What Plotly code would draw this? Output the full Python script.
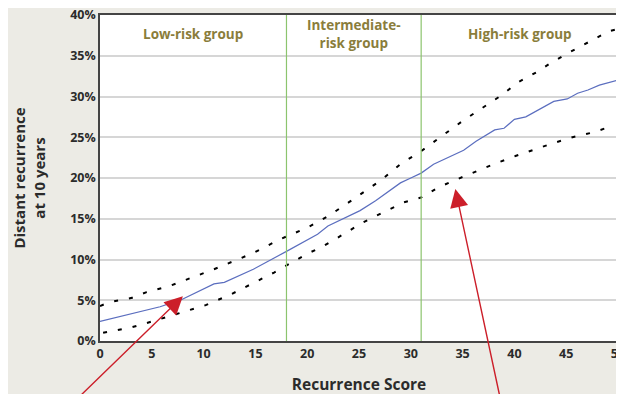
import plotly.graph_objects as go

# Data
score_mid = [0, 5.8, 7.9, 9, 11, 12, 14.8, 18, 19.3, 21, 22, 25.1, 26.6, 29, 30, 31, 32.2, 35.1, 36.3, 38.1, 39.0, 40.0, 41.1, 43.8, 45.1, 46.1, 47.1, 48.2, 50]
risk_mid = [2.4, 4.2, 5.1, 5.8, 7.0, 7.2, 8.8, 11.0, 11.9, 13.1, 14.1, 16.0, 17.2, 19.4, 20.0, 20.6, 21.7, 23.4, 24.5, 25.9, 26.1, 27.2, 27.5, 29.4, 29.7, 30.4, 30.8, 31.4, 32.0]

score_up = [0, 1, 3.1, 4.5, 6.6, 8.7, 11, 14.8, 17.4, 20, 22, 24, 27.2, 29, 31, 35, 36.9, 38.7, 40.3, 42.3, 43.5, 45, 49.1, 50]
risk_up = [4.3, 4.8, 5.3, 6.0, 6.7, 7.7, 8.8, 10.8, 12.5, 13.9, 15.3, 17.0, 19.8, 21.7, 23.3, 27.0, 28.6, 30.1, 31.7, 33.1, 34.1, 35.2, 38.0, 38.3]

score_lo = [0.3, 3.1, 4.5, 6, 8.7, 10.2, 12.6, 14.8, 16.8, 20, 21.5, 23.5, 25.3, 27.2, 29.3, 31, 32.6, 34, 38, 40.1, 42.5, 43.8, 45.6, 47.6, 49.5]
risk_lo = [1.0, 1.7, 2.2, 2.8, 3.8, 4.4, 5.7, 7.1, 8.4, 10.7, 11.6, 13.1, 14.5, 15.7, 17.0, 17.6, 18.8, 19.6, 21.7, 22.7, 23.8, 24.3, 25.0, 25.6, 26.4]

cutoffs = [18, 31]
groups = ["Low-risk group", "Intermediate-<br>risk group", "High-risk group"]
group_x = [9, 24.5, 40.5]
x_ticks = [0, 5, 10, 15, 20, 25, 30, 35, 40, 45, 50]
y_ticks = [0, 5, 10, 15, 20, 25, 30, 35, 40]
y_labels = [f"{v}%" for v in y_ticks]
arrow_tips = [(8.0, 5.5), (34.3, 18.65)]
arrow_offsets = [(-103, 100), (45, 210)]

FONT = "Open Sans"
TXT = "#2b2b2b"
OLIVE = "#8a7d3b"

fig = go.Figure()
fig.add_trace(go.Scatter(x=score_up, y=risk_up, mode="lines",
                         line=dict(color="black", width=2, dash="4px,11px"), hoverinfo="skip"))
fig.add_trace(go.Scatter(x=score_lo, y=risk_lo, mode="lines",
                         line=dict(color="black", width=2, dash="4px,11px"), hoverinfo="skip"))
fig.add_trace(go.Scatter(x=score_mid, y=risk_mid, mode="lines",
                         line=dict(color="#5b6ebf", width=1.2), hoverinfo="skip"))

for c in cutoffs:
    fig.add_shape(type="line", x0=c, x1=c, y0=0, y1=40, xref="x", yref="y",
                  line=dict(color="#8cc46e", width=1.2), layer="above")

for gx, g in zip(group_x, groups):
    fig.add_annotation(x=gx, y=37.7, text=f"<b>{g}</b>", showarrow=False,
                       font=dict(family=FONT, size=13.5, color=OLIVE), yanchor="middle")

for (tx, ty), (ax, ay) in zip(arrow_tips, arrow_offsets):
    fig.add_annotation(x=tx, y=ty, text="", showarrow=True, ax=ax, ay=ay,
                       arrowhead=2, arrowsize=2.6, arrowwidth=1.4, arrowcolor="#cc1f2a",
                       standoff=0)

# page body has an 8px default margin, so the figure is offset inside the window
fig.update_layout(
    width=624, height=394,
    margin=dict(l=92, r=14, t=7, b=61),
    paper_bgcolor="#ecebe5", plot_bgcolor="white",
    showlegend=False,
    font=dict(family=FONT, color=TXT),
    xaxis=dict(range=[0, 50], tickvals=x_ticks, showgrid=False, zeroline=False,
               showline=True, linecolor="#444", linewidth=1.5, mirror=True,
               ticks="", automargin=False, ticklabeloverflow="allow",
               tickfont=dict(size=12.5, color=TXT, weight="bold"),
               title=dict(text="<b>Recurrence Score</b>", font=dict(size=15.5, color=TXT), standoff=18)),
    yaxis=dict(range=[0, 40], tickvals=y_ticks, ticktext=y_labels, showgrid=True,
               gridcolor="#d6d6d6", gridwidth=1.5, zeroline=False,
               showline=True, linecolor="#444", linewidth=1.5, mirror=True,
               ticks="", automargin=False, ticklabeloverflow="allow",
               tickfont=dict(size=12.5, color=TXT, weight="bold"),
               title=dict(text="<b>Distant recurrence<br>at 10 years</b>", font=dict(size=15, color=TXT), standoff=21)),
)

fig.write_html("out.html")
